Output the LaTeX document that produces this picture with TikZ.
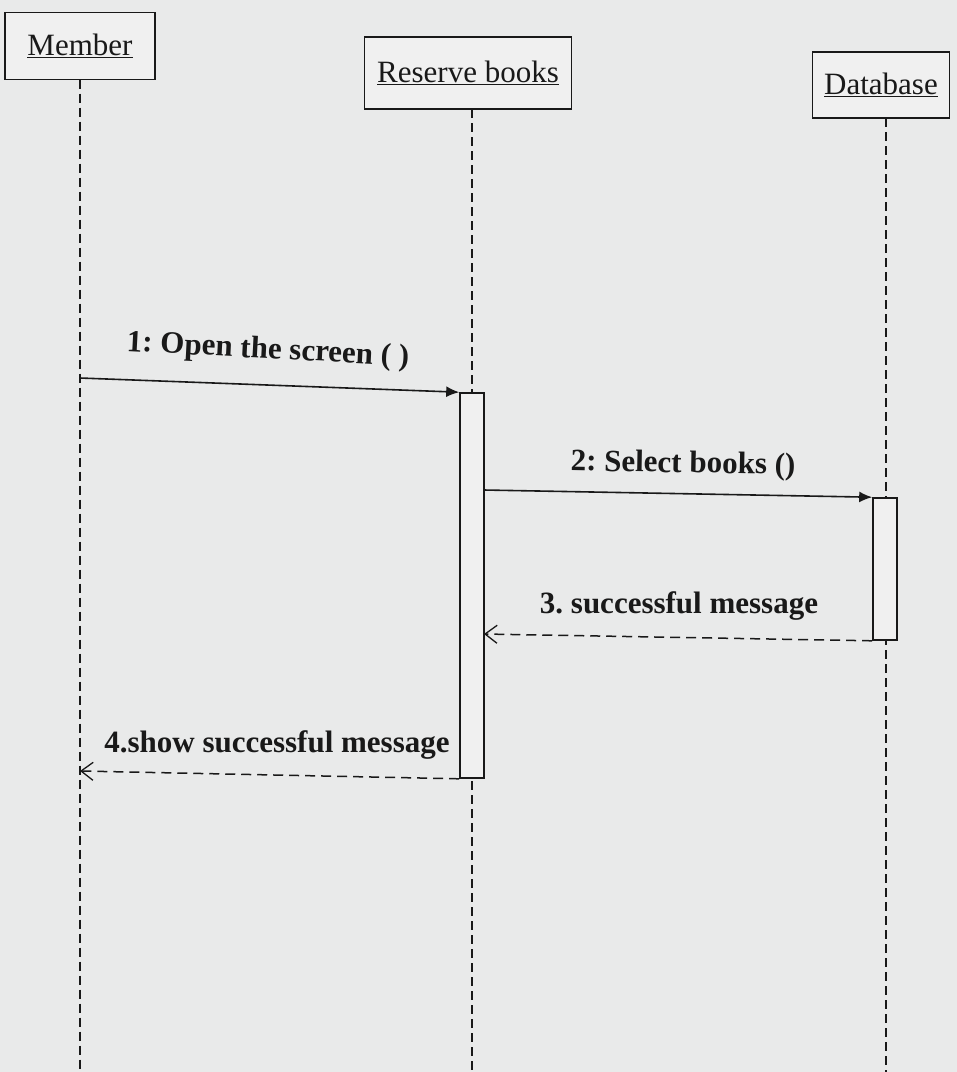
\documentclass[tikz,border=0pt]{standalone}
\usepackage{fontspec}
\setmainfont{Liberation Serif}
\usetikzlibrary{arrows.meta}
\frenchspacing
\definecolor{bg}{RGB}{233,234,234}
\definecolor{boxfill}{RGB}{240,240,240}
\definecolor{ink}{RGB}{25,25,25}
\tikzset{
  hdr/.style={draw=ink, line width=1.3pt, fill=boxfill, inner sep=0pt, text=ink, font=\fontsize{31}{34}\selectfont},
  life/.style={draw=ink, line width=1.8pt, dash pattern=on 9pt off 5pt},
  act/.style={draw=ink, line width=1.6pt, fill=boxfill, inner sep=0pt, minimum width=24pt},
  callmsg/.style={draw=ink, line width=1.6pt, -{Latex[length=13pt,width=11pt]}},
  retmsg/.style={draw=ink, line width=1.5pt, dash pattern=on 10pt off 6pt, -{Straight Barb[length=12pt,width=18pt,line width=1.3pt]}},
  lbl/.style={text=ink, inner sep=0pt, font=\bfseries\fontsize{31}{34}\selectfont}
}
\begin{document}
\begin{tikzpicture}[x=1pt,y=-1pt]
\fill[bg] (0,0) rectangle (957,1072);
\useasboundingbox (0,0) rectangle (957,1072);
% headers
\node[hdr, minimum width=150pt, minimum height=67pt] (m) at (80,46) {\underline{Member}};
\node[hdr, minimum width=207pt, minimum height=72pt] (r) at (468,73) {\underline{Reserve books}};
\node[hdr, minimum width=137pt, minimum height=66pt] (d) at (881,85) {\underline{Database}};
% lifeline ends
\coordinate (mend) at (80,1072);
\coordinate (rend) at (472,1072);
\coordinate (dend) at (886,1072);
\draw[life] (80,79.5) -- (mend);
\draw[life] (472,109) -- (rend);
\draw[life] (886,118) -- (dend);
% activations
\node[act, minimum height=385pt] (a1) at (472,585.5) {};
\node[act, minimum height=142pt] (a2) at (885,569) {};
% messages
\coordinate (s1) at (80,378);
\coordinate (s2) at (484,490);
\coordinate (e3) at (484,634);
\coordinate (e4) at (80,771);
\draw[callmsg] (s1) -- (a1.north west);
\draw[callmsg] (s2) -- (a2.north west);
\draw[retmsg] (a2.south west) -- (e3);
\draw[retmsg] (a1.south west) -- (e4);
% labels
\node[lbl, rotate=-3] (l1) at (268,351) {1: Open the screen ( )};
\node[lbl, rotate=-1] (l2) at (683,465) {2: Select books ()};
\node[lbl] (l3) at (679,606) {3. successful message};
\node[lbl] (l4) at (277,745) {4.show successful message};
\end{tikzpicture}
\end{document}
